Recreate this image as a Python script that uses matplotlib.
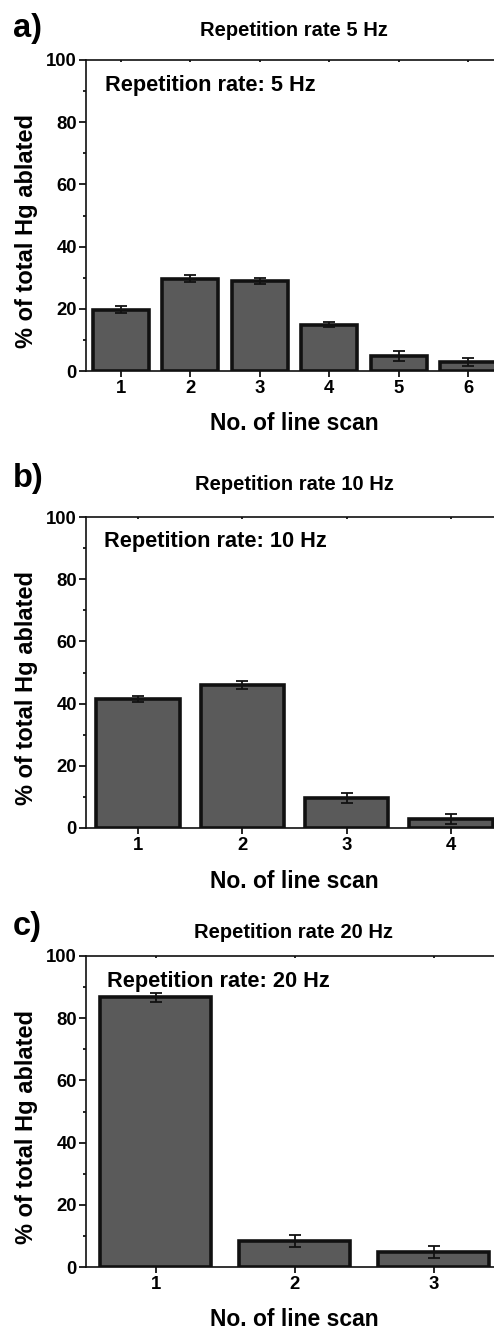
import matplotlib
matplotlib.use("Agg")
import matplotlib.pyplot as plt
from matplotlib.ticker import MultipleLocator

plt.rcParams['font.family'] = ['Liberation Sans', 'DejaVu Sans']
plt.rcParams['font.weight'] = 'bold'

# Werte
scans_5hz = [1, 2, 3, 4, 5, 6]
pct_5hz = [19.7, 29.7, 28.9, 14.9, 4.8, 2.8]
err_5hz = [1.1, 1.2, 0.9, 0.8, 1.6, 1.3]

scans_10hz = [1, 2, 3, 4]
pct_10hz = [41.6, 46.0, 9.7, 3.0]
err_10hz = [1.0, 1.2, 1.7, 1.6]

scans_20hz = [1, 2, 3]
pct_20hz = [86.7, 8.4, 4.9]
err_20hz = [1.5, 2.0, 2.0]

panel_letters = ['a)', 'b)', 'c)']
titles = ['Repetition rate 5 Hz', 'Repetition rate 10 Hz', 'Repetition rate 20 Hz']
inner_texts = ['Repetition rate: 5 Hz', 'Repetition rate: 10 Hz', 'Repetition rate: 20 Hz']

W, H = 494, 1330
fig = plt.figure(figsize=(W / 100, H / 100), dpi=100)

# Pixelpositionen der Achsen (oben, unten) und Texte
ax_tops = [60, 517, 956]
ax_bottoms = [371, 828, 1267]
letter_y = [28, 479, 927]
title_y = [31, 485, 932]
inner_xy = [(105, 86), (104, 542), (107, 982)]

data = [(scans_5hz, pct_5hz, err_5hz),
        (scans_10hz, pct_10hz, err_10hz),
        (scans_20hz, pct_20hz, err_20hz)]

left_px, right_px = 86, 503

for i, (scans, pct, err) in enumerate(data):
    top, bot = ax_tops[i], ax_bottoms[i]
    ax = fig.add_axes([left_px / W, 1 - bot / H, (right_px - left_px) / W, (bot - top) / H])

    ax.bar(scans, pct, width=0.8, color='#5a5a5a', edgecolor='#111111', linewidth=2.6, zorder=2)
    ax.errorbar(scans, pct, yerr=err, fmt='none', ecolor='#111111', elinewidth=1.3,
                capsize=4, capthick=1.3, zorder=3)

    ax.set_xlim(0.5, len(scans) + 0.5)
    ax.set_ylim(0, 100)
    ax.set_xticks(scans)
    ax.yaxis.set_major_locator(MultipleLocator(20))
    ax.yaxis.set_minor_locator(MultipleLocator(10))

    for s in ax.spines.values():
        s.set_linewidth(1.2)
        s.set_color('#111111')

    ax.tick_params(axis='y', which='major', direction='out', length=5, width=1.2, pad=1.5, labelsize=13.3)
    ax.tick_params(axis='y', which='minor', direction='out', length=2.2, width=1.2)
    ax.tick_params(axis='x', which='major', direction='out', length=4.5, width=1.2, pad=2, labelsize=13.3,
                   top=True)
    for t in ax.xaxis.get_major_ticks():
        t.tick2line.set_markersize(1.5)
        t.tick2line.set_marker(3)

    ax.set_xlabel('No. of line scan', fontsize=16.5, fontweight='bold')
    ax.xaxis.set_label_coords(0.5, -53 / (bot - top))
    ax.xaxis.label.set_verticalalignment('center')
    ax.set_ylabel('% of total Hg ablated', fontsize=17, fontweight='bold')
    ax.yaxis.set_label_coords((26 - left_px) / (right_px - left_px), 0.5 - 15 / (bot - top))
    ax.yaxis.label.set_verticalalignment('center')

    fig.text(13 / W, 1 - letter_y[i] / H, panel_letters[i], fontsize=23.5, fontweight='bold',
             ha='left', va='center')
    fig.text(294 / W, 1 - title_y[i] / H, titles[i], fontsize=14.5, fontweight='bold',
             ha='center', va='center')
    ix, iy = inner_xy[i]
    fig.text(ix / W, 1 - iy / H, inner_texts[i], fontsize=15.7, fontweight='bold',
             ha='left', va='center')

fig.savefig('out.png', dpi=100)
